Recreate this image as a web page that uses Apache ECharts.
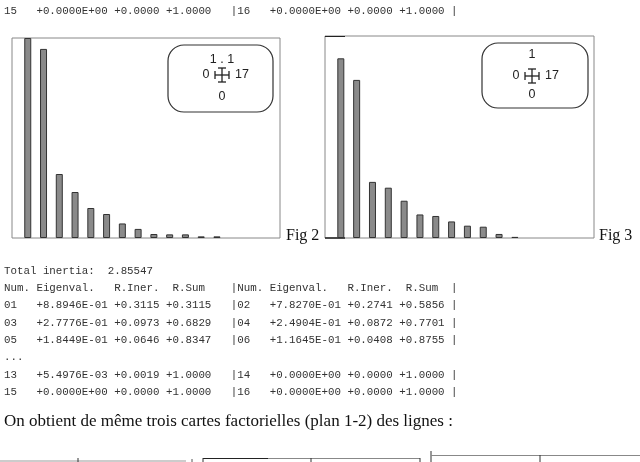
<!DOCTYPE html>
<html>
<head>
<meta charset="utf-8">
<script src="https://cdn.jsdelivr.net/npm/echarts@6/dist/echarts.min.js"></script>
<style>
    html, body { margin: 0; padding: 0; background: #fff; }
    #main { width: 640px; height: 462px; }
</style>
</head>
<body>
<div id="main"></div>
<script>
const fig2Values = [1.1, 1.04, 0.352, 0.253, 0.165, 0.132, 0.08, 0.05, 0.022, 0.02, 0.02, 0.009, 0.009]
const fig3Values = [0.8895, 0.7827, 0.2778, 0.2490, 0.1845, 0.1165, 0.109, 0.082, 0.061, 0.056, 0.02, 0.0055]
// bornes des axes (affichées dans le cartouche)
const fig2Range = { xMin: 0, xMax: 17, yMin: 0, yMax: 1.1, yLabel: '1 . 1' }
const fig3Range = { xMin: 0, xMax: 17, yMin: 0, yMax: 1, yLabel: '1' }
const figTitles = ['Fig 2', 'Fig 3']

// texte du listing
const topRow = '15   +0.0000E+00 +0.0000 +1.0000   |16   +0.0000E+00 +0.0000 +1.0000 |'
const tableRows = [
    'Total inertia:  2.85547',
    'Num. Eigenval.   R.Iner.  R.Sum    |Num. Eigenval.   R.Iner.  R.Sum  |',
    '01   +8.8946E-01 +0.3115 +0.3115   |02   +7.8270E-01 +0.2741 +0.5856 |',
    '03   +2.7776E-01 +0.0973 +0.6829   |04   +2.4904E-01 +0.0872 +0.7701 |',
    '05   +1.8449E-01 +0.0646 +0.8347   |06   +1.1645E-01 +0.0408 +0.8755 |',
    '...',
    '13   +5.4976E-03 +0.0019 +1.0000   |14   +0.0000E+00 +0.0000 +1.0000 |',
    '15   +0.0000E+00 +0.0000 +1.0000   |16   +0.0000E+00 +0.0000 +1.0000 |'
]
const sentence = 'On obtient de même trois cartes factorielles (plan 1-2) des lignes :'

const mono = '10.8px "Liberation Mono", "Courier New", monospace'
const serif = '16px "Liberation Serif", "Times New Roman", serif'
const serifBig = '17px "Liberation Serif", "Times New Roman", serif'
const small = '12.5px "Liberation Sans", Arial, sans-serif'

const chart = echarts.init(document.getElementById('main'))

function txt(text, x, y, font, align, color) {
    return {
        type: 'text', silent: true,
        style: { text: text, x: x, y: y, font: font, fill: color || '#333', align: align || 'left', verticalAlign: 'middle' }
    }
}
function line(x1, y1, x2, y2, color, w) {
    return {
        type: 'line', silent: true,
        shape: { x1: x1, y1: y1, x2: x2, y2: y2 },
        style: { stroke: color || '#333', lineWidth: w || 1 }
    }
}
// cartouche arrondi avec la croix et les bornes
function cartouche(box, cx, cy, range, topY, botY) {
    return [
        { type: 'rect', silent: true, shape: { x: box[0], y: box[1], width: box[2], height: box[3], r: 16 },
          style: { fill: 'none', stroke: '#333', lineWidth: 1.2 } },
        txt(range.yLabel, cx, topY, small, 'center', '#222'),
        txt(String(range.yMin), cx, botY, small, 'center', '#222'),
        txt(String(range.xMin), cx - 16, cy, small, 'center', '#222'),
        txt(String(range.xMax), cx + 20, cy, small, 'center', '#222'),
        line(cx - 7, cy, cx + 7, cy, '#222', 1.3),
        line(cx - 7, cy - 4, cx - 7, cy + 4, '#222', 1.3),
        line(cx + 7, cy - 4, cx + 7, cy + 4, '#222', 1.3),
        line(cx, cy - 7, cx, cy + 7, '#222', 1.3),
        line(cx - 4, cy - 7, cx + 4, cy - 7, '#222', 1.3),
        line(cx - 4, cy + 7, cx + 4, cy + 7, '#222', 1.3)
    ]
}

const graphics = [txt(topRow, 4, 11, mono)]
tableRows.forEach(function (row, i) {
    graphics.push(txt(row, 4, 271 + i * 17.3, mono))
})
graphics.push(txt(sentence, 4, 422, serifBig, 'left', '#111'))
graphics.push(txt(figTitles[0], 286, 236, serif, 'left', '#111'))
graphics.push(txt(figTitles[1], 599, 236, serif, 'left', '#111'))
graphics.push.apply(graphics, cartouche([168, 45, 105, 67], 222, 75, fig2Range, 60, 97))
graphics.push.apply(graphics, cartouche([482, 43, 106, 65], 532, 76, fig3Range, 55, 95))
// traits sombres au coin de la Fig 3
graphics.push(line(325, 36.5, 345, 36.5, '#222', 1))
graphics.push(line(325, 238, 345, 238, '#222', 1.5))
// début des cartes factorielles en bas de page
graphics.push(
    line(0, 461, 186, 461, '#999', 1),
    line(78, 458, 78, 462, '#333', 1),
    line(192, 459, 192, 462, '#555', 1),
    line(203, 458.5, 420, 458.5, '#888', 1),
    line(203, 458.5, 268, 458.5, '#222', 1),
    line(203, 458, 203, 462, '#333', 1),
    line(311, 458, 311, 462, '#333', 1),
    line(420, 458, 420, 462, '#333', 1),
    line(431, 451, 431, 462, '#333', 1),
    line(431, 455.5, 640, 455.5, '#888', 1),
    line(540, 455, 540, 462, '#333', 1)
)

function toPoints(values) {
    return values.map(function (v, i) { return [i + 1, v] })
}
function hiddenAxis(idx, type, min, max) {
    return {
        type: type, gridIndex: idx, min: min, max: max,
        axisLine: { show: false }, axisTick: { show: false },
        axisLabel: { show: false }, splitLine: { show: false }
    }
}
const barStyle = { color: '#8a8a8a', borderColor: '#333', borderWidth: 1 }

chart.setOption({
    animation: false,
    grid: [
        { left: 12, top: 38, width: 268, height: 200, show: true, borderColor: '#888', borderWidth: 1 },
        { left: 325, top: 36, width: 269, height: 202, show: true, borderColor: '#888', borderWidth: 1 }
    ],
    xAxis: [
        hiddenAxis(0, 'value', fig2Range.xMin, fig2Range.xMax),
        hiddenAxis(1, 'value', fig3Range.xMin, fig3Range.xMax)
    ],
    yAxis: [
        hiddenAxis(0, 'value', fig2Range.yMin, fig2Range.yMax),
        hiddenAxis(1, 'value', fig3Range.yMin, fig3Range.yMax)
    ],
    series: [
        { type: 'bar', xAxisIndex: 0, yAxisIndex: 0, barWidth: 7, data: toPoints(fig2Values), itemStyle: barStyle },
        { type: 'bar', xAxisIndex: 1, yAxisIndex: 1, barWidth: 7, data: toPoints(fig3Values), itemStyle: barStyle }
    ],
    graphic: graphics
})
</script>
</body>
</html>
